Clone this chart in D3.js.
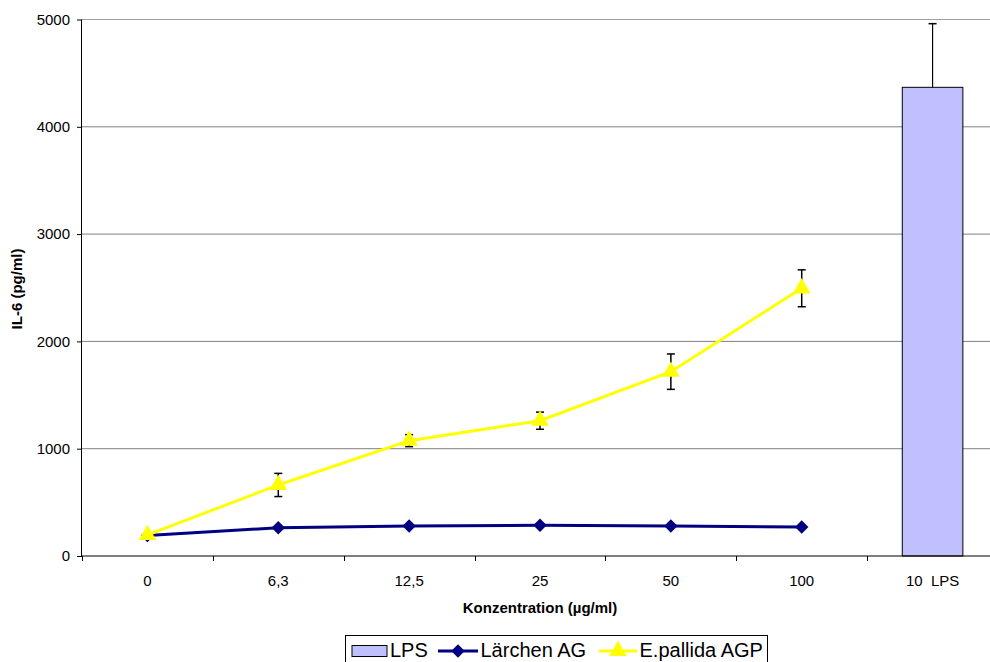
<!DOCTYPE html>
<html><head><meta charset="utf-8">
<script src="https://cdn.jsdelivr.net/npm/d3@7"></script>
<style>body{margin:0;background:#fff}svg{display:block;font-family:"Liberation Sans",Arial,sans-serif}</style>
</head><body><svg id="c" width="990" height="662"></svg>
<script>
const categories = ["0", "6,3", "12,5", "25", "50", "100", "10  LPS"];
const lpsValue = 4368, lpsError = 593;
const larchen = [190, 264, 280, 286, 280, 270];
const pallida = [196, 662, 1075, 1261, 1718, 2495];
const pallidaErr = [0, 108, 56, 80, 165, 172];
const yTicks = [0, 1000, 2000, 3000, 4000, 5000];

const svg = d3.select("#c");
const L = 82, R = 998, T = 19.5, B = 556;
const x = d3.scaleBand().domain(categories).range([L, R]).padding(0);
const y = d3.scaleLinear().domain([0, 5000]).range([B, T]);
const cx = c => x(c) + x.bandwidth() / 2;

// gridlines
svg.append("g").selectAll("line").data(yTicks.slice(1)).join("line")
  .attr("x1", L).attr("x2", R).attr("y1", d => y(d)).attr("y2", d => y(d))
  .attr("stroke", d => d === 5000 ? "#a0a0a0" : "#808080").attr("stroke-width", 1);

// bar
const bw = x.bandwidth() * 0.463;
const lpsCat = categories[6];
svg.append("rect").attr("x", cx(lpsCat) - bw / 2).attr("y", y(lpsValue))
  .attr("width", bw).attr("height", y(0) - y(lpsValue))
  .attr("fill", "#c0c0ff").attr("stroke", "#000").attr("stroke-width", 1);
svg.append("line").attr("x1", cx(lpsCat)).attr("x2", cx(lpsCat))
  .attr("y1", y(lpsValue)).attr("y2", y(lpsValue + lpsError)).attr("stroke", "#000").attr("stroke-width", 1.2);
svg.append("line").attr("x1", cx(lpsCat) - 4).attr("x2", cx(lpsCat) + 4)
  .attr("y1", y(lpsValue + lpsError)).attr("y2", y(lpsValue + lpsError)).attr("stroke", "#000").attr("stroke-width", 1.5);

// axes
const yAxis = d3.axisLeft(y).tickValues(yTicks).tickSize(5).tickPadding(7).tickFormat(d3.format("d"));
const gy = svg.append("g").attr("transform", `translate(${L},0)`).call(yAxis);
gy.select(".domain").attr("stroke", "#000").attr("d", `M-0.5,${B}V${T}`);
gy.selectAll(".tick line").attr("stroke", "#000");
gy.selectAll("text").attr("font-size", 15).attr("fill", "#000").attr("font-family", '"Liberation Sans",Arial,sans-serif');

const gx = svg.append("g").attr("transform", `translate(0,${B})`);
gx.append("line").attr("x1", L).attr("x2", R).attr("y1", 0).attr("y2", 0).attr("stroke", "#000").attr("stroke-width", 1.2);
gx.selectAll(".tk").data(categories).join("line").attr("class", "tk")
  .attr("x1", d => Math.round(x(d)) + 0.5).attr("x2", d => Math.round(x(d)) + 0.5).attr("y1", 0).attr("y2", 5).attr("stroke", "#000");
gx.selectAll("text").data(categories).join("text")
  .attr("x", d => cx(d)).attr("y", 30).attr("text-anchor", "middle")
  .attr("font-size", 15).attr("fill", "#000").style("white-space", "pre").attr("xml:space", "preserve").text(d => d);

// axis titles
svg.append("text").attr("x", 540).attr("y", 613).attr("text-anchor", "middle")
  .attr("font-size", 15).attr("font-weight", "bold").text("Konzentration (µg/ml)");
svg.append("text").attr("transform", "translate(22,289) rotate(-90)").attr("text-anchor", "middle")
  .attr("font-size", 15).attr("font-weight", "bold").text("IL-6 (pg/ml)");

// error bars for E.pallida
const linePts = categories.slice(0, 6);
const eg = svg.append("g").attr("stroke", "#000").attr("stroke-width", 1.5);
pallida.forEach((v, i) => {
  const e = pallidaErr[i]; if (!e) return;
  const c = cx(linePts[i]);
  eg.append("line").attr("x1", c).attr("x2", c).attr("y1", y(v - e)).attr("y2", y(v + e));
  eg.append("line").attr("x1", c - 4).attr("x2", c + 4).attr("y1", y(v + e)).attr("y2", y(v + e));
  eg.append("line").attr("x1", c - 4).attr("x2", c + 4).attr("y1", y(v - e)).attr("y2", y(v - e));
});

// lines
const line = d3.line().x((d, i) => cx(linePts[i])).y(d => y(d));
svg.append("path").datum(larchen).attr("d", line).attr("fill", "none").attr("stroke", "#000080").attr("stroke-width", 3);
const diamond = d3.symbol().type(d3.symbolDiamond2).size(115);
svg.append("g").selectAll("path").data(larchen).join("path")
  .attr("transform", (d, i) => `translate(${cx(linePts[i])},${y(d)})`).attr("d", diamond).attr("fill", "#000080");

svg.append("path").datum(pallida).attr("d", line).attr("fill", "none").attr("stroke", "#ffff00").attr("stroke-width", 3);
const tri = d3.symbol().type(d3.symbolTriangle).size(135);
svg.append("g").selectAll("path").data(pallida).join("path")
  .attr("transform", (d, i) => `translate(${cx(linePts[i])},${y(d)})`).attr("d", tri).attr("fill", "#ffff00");

// legend
const lg = svg.append("g");
lg.append("rect").attr("x", 345.5).attr("y", 635.5).attr("width", 422).attr("height", 40).attr("fill", "#fff").attr("stroke", "#000");
lg.append("rect").attr("x", 352).attr("y", 645.5).attr("width", 35).attr("height", 11).attr("fill", "#c0c0ff").attr("stroke", "#000");
lg.append("text").attr("x", 390).attr("y", 657).attr("font-size", 20).text("LPS");
lg.append("line").attr("x1", 438).attr("x2", 478).attr("y1", 651).attr("y2", 651).attr("stroke", "#000080").attr("stroke-width", 3);
lg.append("path").attr("transform", "translate(458,651)").attr("d", diamond).attr("fill", "#000080");
lg.append("text").attr("x", 480.5).attr("y", 657).attr("font-size", 20).text("Lärchen AG");
lg.append("line").attr("x1", 599).attr("x2", 637).attr("y1", 651).attr("y2", 651).attr("stroke", "#ffff00").attr("stroke-width", 3);
lg.append("path").attr("transform", "translate(618,651)").attr("d", tri).attr("fill", "#ffff00");
lg.append("text").attr("x", 639.5).attr("y", 657).attr("font-size", 20).text("E.pallida AGP");
</script></body></html>
